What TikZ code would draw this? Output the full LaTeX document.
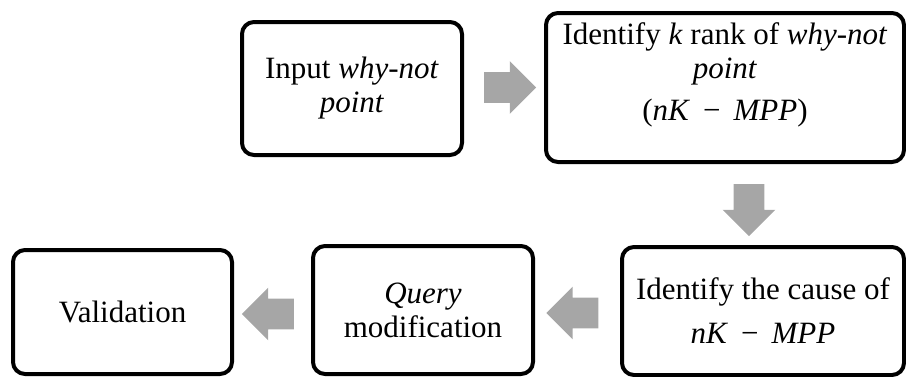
\documentclass[tikz,border=0pt]{standalone}
\usepackage{fontspec}
\setmainfont{Liberation Serif}
\usetikzlibrary{shapes.arrows}
\definecolor{arrgray}{RGB}{166,166,166}
\newcommand{\nkmpp}{\textit{nK}\, −\, \textit{MPP}}
\newcommand{\shaft}{\rule{0pt}{15pt}}
\newcommand{\vshaft}{\rule{15pt}{0pt}}
\begin{document}
\begin{tikzpicture}[x=0.5pt,y=-0.5pt,line join=round,
	box/.style={draw,line width=2pt,rounded corners=6pt,align=center,inner sep=0pt,
		font=\fontsize{15.5}{17}\selectfont},
	blk/.style={single arrow,fill=arrgray,draw=none,inner sep=0pt,
		minimum width=23pt,minimum height=26pt,single arrow head extend=5.5pt}]
	\useasboundingbox (0,0) rectangle (906,376);
	\path
	(352,88.5)coordinate (I)
	(725,87.5)coordinate (R)
	(763,311)coordinate (C)
	(423,310)coordinate (Q)
	(122.5,312)coordinate (V)
		;
	\node[box,minimum width=110pt,minimum height=66.5pt] (inp) at (I) {Input \textit{why-not}\\\textit{point}};
	\node[box,minimum width=179pt,minimum height=74.5pt,text depth=16pt] (rnk) at (R) {Identify \textit{k} rank of \textit{why-not}\\\textit{point}\\[4pt](\nkmpp)};
	\node[box,minimum width=141pt,minimum height=64pt] (cau) at (C) {Identify the cause of\\[5pt]\nkmpp};
	\node[box,minimum width=110pt,minimum height=64pt] (qry) at (Q) {\textit{Query}\\modification};
	\node[box,minimum width=109.5pt,minimum height=62pt] (val) at (V) {Validation};
	% block arrows between the steps
	\node[blk] (a1) at (502.5,87.5) {\shaft};
	\node[blk,shape border rotate=270] (a2) at (749,202.5) {\vshaft};
	\node[blk,shape border rotate=180] (a3) at (580,313) {\shaft};
	\node[blk,shape border rotate=180] (a4) at (275.5,314) {\shaft};
\end{tikzpicture}
\end{document}
